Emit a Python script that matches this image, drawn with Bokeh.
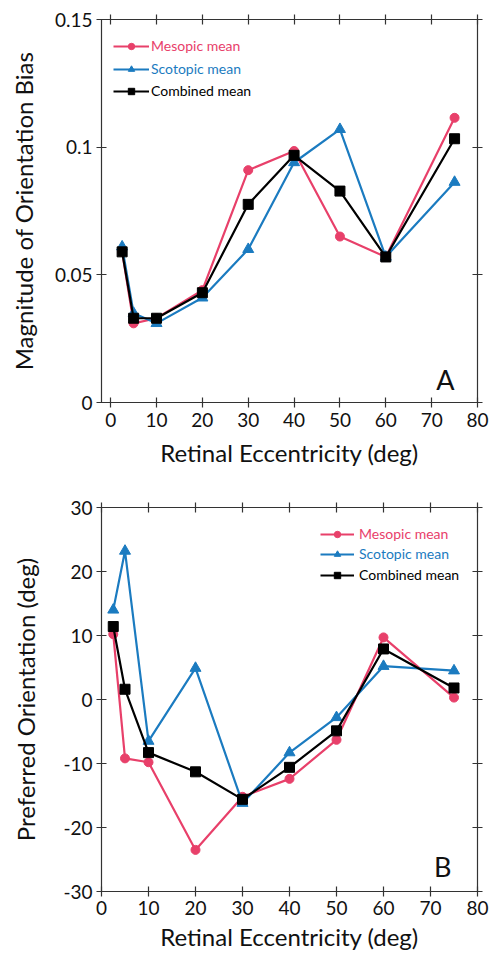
from bokeh.plotting import figure
from bokeh.models import (LinearAxis, FixedTicker, Legend, LegendItem, Label,
                          Range1d, NumeralTickFormatter, CustomJSTickFormatter)
from bokeh.layouts import column
from bokeh.embed import file_html
from bokeh.resources import INLINE

# ---------------- data ----------------
ecc = [2.5, 5, 10, 20, 30, 40, 50, 60, 75]

bias_mesopic = [0.059, 0.031, 0.033, 0.044, 0.091, 0.0985, 0.065, 0.057, 0.1115]
bias_scotopic = [0.061, 0.035, 0.031, 0.041, 0.060, 0.094, 0.107, 0.057, 0.0863]
bias_combined = [0.059, 0.033, 0.033, 0.043, 0.0776, 0.0968, 0.0828, 0.057, 0.1033]

pref_mesopic = [10.2, -9.2, -9.8, -23.5, -15.2, -12.4, -6.3, 9.7, 0.3]
pref_scotopic = [14.0, 23.2, -6.5, 4.9, -16.2, -8.3, -2.8, 5.2, 4.5]
pref_combined = [11.4, 1.6, -8.3, -11.3, -15.6, -10.6, -4.9, 7.9, 1.8]

x_ticks = [0, 10, 20, 30, 40, 50, 60, 70, 80]
bias_ticks = [0, 0.05, 0.1, 0.15]
pref_ticks = [-30, -20, -10, 0, 10, 20, 30]

series_names = ["Mesopic mean", "Scotopic mean", "Combined mean"]
series_colors = ["#E8406A", "#1B7BC0", "#000000"]
series_markers = ["circle", "triangle", "square"]
series_sizes = [9, 11, 10]

FONT = "Lato"
AX = "#333333"


def style_axis(ax, show_labels, std=(5, 8)):
    ax.axis_line_color = AX
    ax.axis_line_width = 1.2
    ax.major_tick_line_color = AX
    ax.major_tick_line_width = 1.2
    ax.major_tick_in = 5
    ax.major_tick_out = 5
    ax.minor_tick_line_color = None
    ax.major_label_text_font = FONT
    ax.major_label_text_color = "#111111"
    if show_labels:
        ax.major_label_text_font_size = "19px"
        ax.major_label_standoff = std[0]
        ax.axis_label_text_font = FONT
        ax.axis_label_text_font_size = "24px"
        ax.axis_label_text_font_style = "normal"
        ax.axis_label_text_color = "#111111"
        ax.axis_label_standoff = std[1]
    else:
        ax.formatter = CustomJSTickFormatter(code="return '';")
        ax.major_label_standoff = 0


def make_panel(ys, xr, yr, yticks, yfmt, ylabel, letter, letter_xy,
               legend_x, legend_ys, legend_gw, legend_so, height, borders,
               xstd, ystd):
    p = figure(width=490, height=height, output_backend="svg",
               toolbar_location=None, x_range=Range1d(*xr), y_range=Range1d(*yr),
               min_border_left=borders[0], min_border_right=borders[1],
               min_border_top=borders[2], min_border_bottom=borders[3])
    p.outline_line_color = None
    p.grid.visible = False
    p.background_fill_color = "white"
    p.border_fill_color = "white"

    p.xaxis.ticker = FixedTicker(ticks=x_ticks)
    p.yaxis.ticker = FixedTicker(ticks=yticks)
    p.yaxis.formatter = NumeralTickFormatter(format=yfmt)
    p.xaxis.axis_label = "Retinal Eccentricity (deg)"
    p.yaxis.axis_label = ylabel
    style_axis(p.xaxis[0], True, xstd)
    style_axis(p.yaxis[0], True, ystd)

    top = LinearAxis(ticker=FixedTicker(ticks=x_ticks))
    right = LinearAxis(ticker=FixedTicker(ticks=yticks))
    style_axis(top, False)
    style_axis(right, False)
    p.add_layout(top, "above")
    p.add_layout(right, "right")

    renderers = []
    for yv, name, col, mk, sz in zip(ys, series_names, series_colors,
                                      series_markers, series_sizes):
        lr = p.line(ecc, yv, line_color=col, line_width=2.2)
        sr = p.scatter(ecc, yv, marker=mk, size=sz, fill_color=col,
                       line_color=col)
        renderers.append((name, col, [lr, sr]))

    for (name, col, rs), ly in zip(renderers, legend_ys):
        lg = Legend(items=[LegendItem(label=name, renderers=rs)],
                    location=(legend_x, ly), orientation="vertical",
                    padding=0, margin=0, spacing=0,
                    glyph_width=legend_gw, glyph_height=16, label_height=16,
                    label_standoff=legend_so,
                    label_text_font=FONT, label_text_font_size="14px",
                    label_text_color=col,
                    border_line_color=None, background_fill_alpha=0)
        p.add_layout(lg, "center")

    p.add_layout(Label(x=letter_xy[0], y=letter_xy[1], text=letter,
                       text_font=FONT, text_font_size="27px",
                       text_align="center", text_baseline="alphabetic",
                       text_color="#111111"))
    return p


pA = make_panel([bias_mesopic, bias_scotopic, bias_combined],
                (-2, 80), (0, 0.15), bias_ticks, "0.[00]",
                "Magnitude of Orientation Bias", "A", (73.0, 0.009),
                12, [348, 325, 303], 36, 2, 478, (101, 13, 19, 76),
                (5, 8), (4, 14))

pB = make_panel([pref_mesopic, pref_scotopic, pref_combined],
                (0, 80), (-30, 30), pref_ticks, "0",
                "Preferred Orientation (deg)", "B", (72.6, -26.1),
                219, [349, 329, 308], 34, 5, 478, (101, 13, 29, 65),
                (4, 4), (4, 20))

layout = column(pA, pB, spacing=0)
open("out.html", "w").write(file_html(layout, INLINE))
